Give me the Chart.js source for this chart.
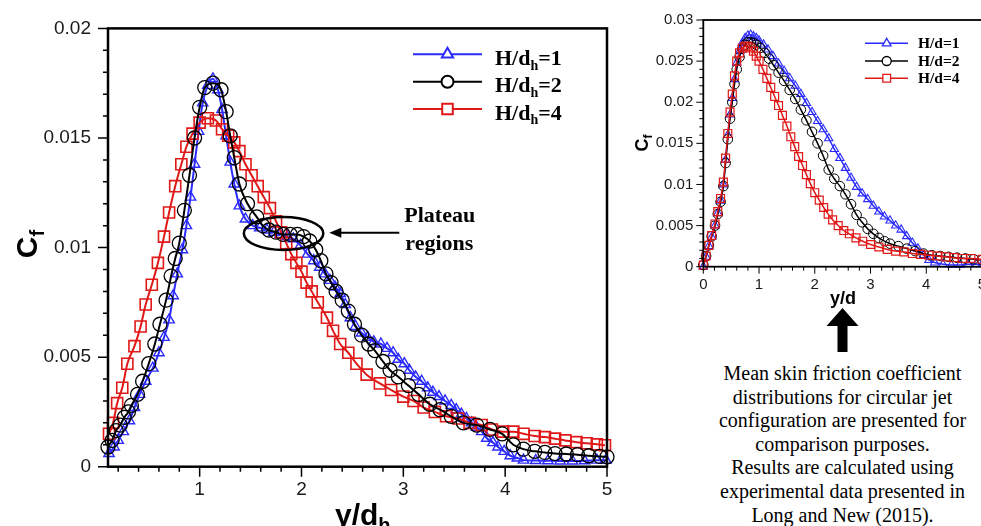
<!DOCTYPE html>
<html><head><meta charset="utf-8">
<script src="https://cdn.jsdelivr.net/npm/chart.js@4.4.1/dist/chart.umd.min.js"></script>
<style>
html,body{margin:0;padding:0;background:#fff;width:981px;height:526px;overflow:hidden;position:relative;}
canvas{position:absolute;top:0;}
#mainChart{left:0;}
#sideChart{left:630px;}
#upArrow{position:absolute;left:820px;top:300px;}
#note{position:absolute;left:700px;top:362px;width:285px;text-align:center;font-family:"Liberation Serif","Times New Roman",serif;font-size:20px;line-height:23.6px;color:#000;white-space:nowrap;}
</style></head><body>
<canvas id="mainChart" width="640" height="526"></canvas>
<canvas id="sideChart" width="370" height="330"></canvas>
<svg id="upArrow" width="45" height="60"><polygon points="22.5,8 6.5,26 17.5,26 17.5,52 27.5,52 27.5,26 38.5,26" fill="#000"/></svg>
<div id="note">Mean skin friction coefficient<br>distributions for circular jet<br>configuration are presented for<br>comparison purposes.<br>Results are calculated using<br>experimental data presented in<br>Long and New (2015).</div>
<script>
// ---------------- DATA: main chart (rectangular jet, H/dh) ----------------
const mainX1 = [0.11,0.16,0.20,0.25,0.31,0.36,0.41,0.47,0.54,0.60,0.65,0.70,0.74,0.78,0.83,0.87,0.91,0.95,0.99,1.03,1.08,1.13,1.18,1.22,1.26,1.30,1.34,1.39,1.45,1.52,1.59,1.66,1.73,1.79,1.86,1.92,1.99,2.06,2.12,2.18,2.23,2.28,2.33,2.38,2.43,2.48,2.53,2.59,2.65,2.71,2.78,2.84,2.90,2.95,3.01,3.06,3.12,3.18,3.24,3.29,3.35,3.41,3.47,3.52,3.57,3.62,3.67,3.72,3.77,3.82,3.88,3.93,3.99,4.05,4.12,4.18,4.30,4.42,4.54,4.66,4.78,4.90,4.99];
const mainY1 = [0.0006,0.0009,0.0012,0.0016,0.0021,0.0027,0.0033,0.0039,0.0045,0.0052,0.0059,0.0067,0.0078,0.0088,0.0099,0.0110,0.0123,0.0138,0.0153,0.0166,0.0174,0.0177,0.0172,0.0163,0.0151,0.0139,0.0129,0.0119,0.0113,0.0110,0.0109,0.0108,0.0107,0.0106,0.0105,0.0104,0.0101,0.0097,0.0094,0.0091,0.0088,0.0085,0.0082,0.0079,0.0074,0.0068,0.0064,0.0061,0.0059,0.0057,0.0056,0.0054,0.0052,0.0049,0.0047,0.0044,0.0041,0.0039,0.0036,0.0034,0.0032,0.0030,0.0028,0.0026,0.0024,0.0022,0.0020,0.0018,0.0016,0.0013,0.0011,0.0009,0.0007,0.0005,0.0004,0.0003,0.00028,0.00027,0.00026,0.00026,0.00027,0.0003,0.0003];
const mainX2 = [0.10,0.14,0.18,0.22,0.26,0.30,0.33,0.39,0.44,0.50,0.56,0.61,0.67,0.72,0.76,0.80,0.85,0.90,0.95,1.00,1.05,1.13,1.21,1.26,1.30,1.34,1.39,1.47,1.56,1.62,1.68,1.75,1.82,1.89,1.96,2.02,2.08,2.14,2.19,2.24,2.29,2.34,2.40,2.46,2.52,2.59,2.66,2.72,2.80,2.87,2.95,3.05,3.15,3.26,3.36,3.47,3.59,3.72,3.85,3.97,4.08,4.18,4.29,4.39,4.49,4.60,4.71,4.82,4.93,5.00];
const mainY2 = [0.0009,0.0012,0.00165,0.0019,0.00225,0.0025,0.0028,0.0033,0.0039,0.0047,0.0056,0.0065,0.0076,0.0087,0.0095,0.0102,0.0117,0.0133,0.0150,0.0164,0.0173,0.0175,0.0172,0.0162,0.0151,0.0141,0.0129,0.0120,0.0114,0.0110,0.0108,0.0107,0.0106,0.0106,0.0106,0.0105,0.0103,0.0099,0.0094,0.0088,0.0084,0.0080,0.0076,0.0071,0.0065,0.0060,0.0056,0.0053,0.0048,0.0044,0.0041,0.0037,0.0033,0.00285,0.0026,0.0023,0.0020,0.0019,0.0017,0.0015,0.0010,0.0008,0.0007,0.00065,0.0006,0.00058,0.00055,0.0005,0.00047,0.00045];
const mainX4 = [0.11,0.15,0.19,0.24,0.29,0.36,0.42,0.47,0.53,0.59,0.65,0.70,0.76,0.82,0.87,0.93,1.00,1.08,1.16,1.22,1.28,1.34,1.39,1.45,1.51,1.57,1.63,1.69,1.75,1.80,1.85,1.90,1.95,2.00,2.05,2.10,2.16,2.25,2.31,2.38,2.46,2.54,2.64,2.77,2.88,3.00,3.10,3.20,3.31,3.42,3.54,3.65,3.77,3.87,3.98,4.08,4.18,4.29,4.39,4.49,4.59,4.70,4.80,4.90,4.98];
const mainY4 = [0.0015,0.0020,0.0029,0.0036,0.0047,0.0055,0.0064,0.0074,0.0083,0.0093,0.0105,0.0116,0.0128,0.0138,0.0146,0.0152,0.0157,0.0159,0.0158,0.0154,0.0151,0.0148,0.0144,0.0138,0.0133,0.0128,0.0123,0.0118,0.0112,0.0107,0.0102,0.0097,0.0093,0.0089,0.0084,0.0080,0.0075,0.0068,0.0062,0.0056,0.0052,0.0047,0.0042,0.0038,0.0035,0.0032,0.0030,0.0027,0.0025,0.0023,0.0022,0.0020,0.0019,0.0017,0.0016,0.0016,0.0015,0.0014,0.00135,0.00128,0.0012,0.00112,0.00107,0.00102,0.00098];
const mainXTicks = [1,2,3,4,5];
const mainYTicks = [0,0.005,0.01,0.015,0.02];
const mainLegendValues = ['1','2','4'];
const plateauCenter = [1.824, 0.01064];
const plateauRadii = [0.39, 0.00075];

// ---------------- DATA: side chart (circular jet, H/d) ----------------
const sideX1 = [0.00,0.05,0.10,0.15,0.21,0.26,0.31,0.36,0.40,0.44,0.48,0.52,0.56,0.60,0.65,0.70,0.75,0.80,0.85,0.90,0.95,1.00,1.08,1.16,1.25,1.35,1.45,1.55,1.65,1.75,1.85,1.95,2.05,2.15,2.25,2.35,2.45,2.55,2.65,2.75,2.85,2.95,3.05,3.15,3.25,3.35,3.45,3.55,3.65,3.75,3.85,3.95,4.05,4.15,4.30,4.45,4.60,4.75,4.90,5.00];
const sideY1 = [0.0000,0.0012,0.0025,0.0036,0.0050,0.0065,0.0080,0.0100,0.0130,0.0160,0.0185,0.0205,0.0228,0.0248,0.0262,0.0272,0.0278,0.0281,0.0282,0.0280,0.0278,0.0275,0.0270,0.0264,0.0256,0.0247,0.0238,0.0229,0.0220,0.0210,0.0199,0.0188,0.0177,0.0167,0.0156,0.0143,0.0132,0.0120,0.0108,0.0097,0.0089,0.0082,0.0074,0.0067,0.0061,0.0056,0.0050,0.0045,0.0037,0.0029,0.0022,0.0014,0.0008,0.0005,0.0003,0.0002,0.0002,0.0003,0.0003,0.0003];
const sideX2 = [0.00,0.05,0.10,0.15,0.21,0.26,0.31,0.36,0.40,0.44,0.48,0.52,0.56,0.60,0.65,0.70,0.75,0.80,0.85,0.90,0.95,1.02,1.10,1.18,1.26,1.35,1.45,1.55,1.65,1.75,1.85,1.95,2.05,2.15,2.25,2.35,2.45,2.55,2.65,2.75,2.85,2.95,3.05,3.15,3.25,3.35,3.50,3.65,3.80,3.95,4.10,4.25,4.40,4.55,4.70,4.85,5.00];
const sideY2 = [0.0002,0.0013,0.0026,0.0037,0.0050,0.0064,0.0079,0.0098,0.0126,0.0155,0.0180,0.0200,0.0222,0.0240,0.0255,0.0265,0.0270,0.0273,0.0273,0.0272,0.0270,0.0266,0.0260,0.0253,0.0245,0.0236,0.0226,0.0215,0.0204,0.0191,0.0178,0.0164,0.0150,0.0135,0.0118,0.0107,0.0098,0.0088,0.0076,0.0063,0.0054,0.0046,0.0040,0.0035,0.0031,0.0028,0.0025,0.0022,0.0019,0.0016,0.0014,0.0013,0.0012,0.0011,0.0010,0.0009,0.0008];
const sideX4 = [0.00,0.05,0.10,0.15,0.21,0.26,0.31,0.36,0.40,0.44,0.48,0.52,0.56,0.60,0.65,0.70,0.75,0.80,0.85,0.90,0.95,1.00,1.07,1.14,1.21,1.28,1.35,1.42,1.50,1.57,1.64,1.71,1.78,1.85,1.92,2.00,2.08,2.16,2.24,2.32,2.42,2.52,2.62,2.74,2.86,3.00,3.15,3.30,3.45,3.60,3.75,3.90,4.05,4.20,4.35,4.50,4.65,4.80,5.00];
const sideY4 = [0.0002,0.0013,0.0026,0.0038,0.0052,0.0067,0.0083,0.0103,0.0132,0.0162,0.0188,0.0210,0.0232,0.0250,0.0260,0.0266,0.0268,0.0268,0.0266,0.0262,0.0256,0.0250,0.0240,0.0229,0.0218,0.0207,0.0196,0.0184,0.0171,0.0158,0.0146,0.0134,0.0123,0.0112,0.0101,0.0090,0.0081,0.0072,0.0064,0.0057,0.0050,0.0044,0.0040,0.0035,0.0031,0.0027,0.0024,0.0021,0.0019,0.0018,0.0016,0.0015,0.0014,0.0013,0.0012,0.0011,0.0010,0.0010,0.0009];
const sideXTicks = [0,1,2,3,4,5];
const sideYTicks = [0,0.005,0.01,0.015,0.02,0.025,0.03];
const sideLegendValues = ['1','2','4'];

// ---------------- styling ----------------
const BLUE = '#2b2bff', RED = '#e01818', BLACK = '#000000';
const SANS = '"Liberation Sans", Arial, sans-serif';
const SERIF = '"Liberation Serif", "Times New Roman", serif';
const pts = (xs, ys) => xs.map((x, i) => ({ x: x, y: ys[i] }));

function markerPath(ctx, style, x, y, r) {
  ctx.beginPath();
  if (style === 'circle') ctx.arc(x, y, r, 0, Math.PI * 2);
  else if (style === 'rect') { const s = r * Math.SQRT1_2; ctx.rect(x - s, y - s, 2 * s, 2 * s); }
  else {
    ctx.moveTo(x, y - r);
    ctx.lineTo(x + r * Math.sin(2 * Math.PI / 3), y - r * Math.cos(2 * Math.PI / 3));
    ctx.lineTo(x + r * Math.sin(4 * Math.PI / 3), y - r * Math.cos(4 * Math.PI / 3));
    ctx.closePath();
  }
}

function drawSub(ctx, x, y, base, sub, tail, size, family, weight) {
  ctx.font = weight + ' ' + size + 'px ' + family;
  ctx.fillText(base, x, y);
  let w = ctx.measureText(base).width;
  const ss = Math.round(size * 0.65);
  ctx.font = weight + ' ' + ss + 'px ' + family;
  ctx.fillText(sub, x + w, y + size * 0.22);
  w += ctx.measureText(sub).width;
  ctx.font = weight + ' ' + size + 'px ' + family;
  if (tail) { ctx.fillText(tail, x + w, y); w += ctx.measureText(tail).width; }
  return w;
}

function subWidth(ctx, base, sub, size, family, weight) {
  ctx.font = weight + ' ' + size + 'px ' + family;
  let w = ctx.measureText(base).width;
  ctx.font = weight + ' ' + Math.round(size * 0.65) + 'px ' + family;
  return w + ctx.measureText(sub).width;
}

function drawFrameAndTicks(chart, o) {
  const ctx = chart.ctx, a = chart.chartArea, xs = chart.scales.x, ys = chart.scales.y;
  ctx.save();
  ctx.strokeStyle = '#000';
  ctx.lineWidth = o.tickWidth;
  ctx.beginPath();
  const nx = Math.round((o.xMax - o.xStart) / o.xMinor);
  for (let i = 0; i <= nx; i++) {
    const v = o.xStart + i * o.xMinor;
    const px = xs.getPixelForValue(v);
    if (px < a.left - 0.5 || px > a.right + 0.5) continue;
    const major = Math.abs(v - Math.round(v)) < 1e-6;
    ctx.moveTo(px, a.bottom); ctx.lineTo(px, a.bottom + (major ? o.majorLen : o.minorLen));
  }
  const ny = Math.round(o.yMax / o.yMinor);
  for (let i = 0; i <= ny; i++) {
    const v = i * o.yMinor;
    const py = ys.getPixelForValue(v);
    const major = i % o.yMajorEvery === 0;
    ctx.moveTo(a.left, py); ctx.lineTo(a.left - (major ? o.majorLen : o.minorLen), py);
  }
  ctx.stroke();
  ctx.lineWidth = o.frameWidth;
  ctx.strokeRect(a.left, a.top, a.right - a.left, a.bottom - a.top);
  ctx.restore();
}

function legendEntry(ctx, x0, x1, xm, y, color, style, r, lw, mlw) {
  ctx.save();
  ctx.strokeStyle = color; ctx.lineWidth = lw;
  ctx.beginPath(); ctx.moveTo(x0, y); ctx.lineTo(x1, y); ctx.stroke();
  markerPath(ctx, style, xm, y, r);
  ctx.fillStyle = '#fff'; ctx.fill();
  ctx.lineWidth = mlw; ctx.stroke();
  ctx.restore();
}

const mainDecor = {
  id: 'mainDecor',
  afterDraw(chart) {
    const ctx = chart.ctx, xs = chart.scales.x, ys = chart.scales.y;
    drawFrameAndTicks(chart, { tickWidth: 1.5, frameWidth: 2.5, xStart: 0.2, xMax: 5, xMinor: 0.2, yMax: 0.02, yMinor: 0.001, yMajorEvery: 5, majorLen: 10, minorLen: 5 });
    ctx.save();
    ctx.fillStyle = '#000';
    ctx.textBaseline = 'alphabetic';
    drawSub(ctx, 335, 525, 'y/d', 'h', '', 30, SANS, 'bold');
    ctx.save();
    ctx.translate(37, 244);
    ctx.rotate(-Math.PI / 2);
    const cw = subWidth(ctx, 'C', 'f', 30, SANS, 'bold');
    drawSub(ctx, -cw / 2, 0, 'C', 'f', '', 30, SANS, 'bold');
    ctx.restore();
    const cols = [BLUE, BLACK, RED], styles = ['triangle', 'circle', 'rect'], rs = [6.5, 6, 7.5];
    const ly = [54.3, 81.7, 109];
    for (let i = 0; i < 3; i++) {
      legendEntry(ctx, 413, 482, 447.5, ly[i], cols[i], styles[i], rs[i], 2, 2);
      ctx.fillStyle = '#000';
      drawSub(ctx, 495, ly[i] + 10.5, 'H/d', 'h', '=' + mainLegendValues[i], 22, SERIF, 'bold');
    }
    const cx = xs.getPixelForValue(plateauCenter[0]), cy = ys.getPixelForValue(plateauCenter[1]);
    const rx = xs.getPixelForValue(plateauCenter[0] + plateauRadii[0]) - cx;
    const ry = cy - ys.getPixelForValue(plateauCenter[1] + plateauRadii[1]);
    ctx.strokeStyle = '#000'; ctx.lineWidth = 2.5;
    ctx.beginPath(); ctx.ellipse(cx, cy, rx, ry, 0, 0, Math.PI * 2); ctx.stroke();
    const tipX = cx + rx + 6, ay = cy - 0.7;
    ctx.lineWidth = 2;
    ctx.beginPath(); ctx.moveTo(tipX + 70, ay); ctx.lineTo(tipX + 10, ay); ctx.stroke();
    ctx.beginPath(); ctx.moveTo(tipX, ay); ctx.lineTo(tipX + 12, ay - 5); ctx.lineTo(tipX + 12, ay + 5); ctx.closePath(); ctx.fill();
    ctx.font = 'bold 22px ' + SERIF;
    ctx.fillText('Plateau', tipX + 75, 222);
    ctx.fillText('regions', tipX + 76, 250);
    ctx.restore();
  }
};

const sideDecor = {
  id: 'sideDecor',
  afterDraw(chart) {
    const ctx = chart.ctx;
    drawFrameAndTicks(chart, { tickWidth: 1, frameWidth: 1.8, xStart: 0, xMax: 5, xMinor: 0.2, yMax: 0.03, yMinor: 0.001, yMajorEvery: 5, majorLen: 7, minorLen: 4 });
    ctx.save();
    ctx.fillStyle = '#000';
    const yw = subWidth(ctx, 'y/d', '', 18, SANS, 'bold');
    drawSub(ctx, 213 - yw / 2, 304, 'y/d', '', '', 18, SANS, 'bold');
    ctx.save();
    ctx.translate(18, 143);
    ctx.rotate(-Math.PI / 2);
    const cw = subWidth(ctx, 'C', 'f', 18, SANS, 'bold');
    drawSub(ctx, -cw / 2, 0, 'C', 'f', '', 18, SANS, 'bold');
    ctx.restore();
    const cols = [BLUE, BLACK, RED], styles = ['triangle', 'circle', 'rect'], rs = [5, 4.5, 5.5];
    const ly = [43.3, 61, 78.3];
    for (let i = 0; i < 3; i++) {
      legendEntry(ctx, 235, 278, 256.7, ly[i], cols[i], styles[i], rs[i], 1.5, 1.3);
      ctx.fillStyle = '#000';
      ctx.font = 'bold 15.5px ' + SERIF;
      ctx.fillText('H/d=' + sideLegendValues[i], 288, ly[i] + 5);
    }
    ctx.restore();
  }
};

function ds(label, xs, ys, color, style, r, lw, mlw, order) {
  return {
    label: label, data: pts(xs, ys), showLine: true, borderColor: color, borderWidth: lw,
    cubicInterpolationMode: 'monotone', fill: false, clip: false, order: order,
    pointStyle: style, pointRadius: r, pointHoverRadius: r, pointBorderColor: color,
    pointBackgroundColor: 'rgba(0,0,0,0)', pointBorderWidth: mlw
  };
}

function scaleOpts(min, max, ticks, fit, isX, fontSize, pad) {
  return {
    type: 'linear', min: min, max: max,
    afterBuildTicks: s => { s.ticks = ticks.map(v => ({ value: v })); },
    afterFit: s => { if (isX) s.height = fit; else s.width = fit; },
    grid: { display: false, drawTicks: false },
    border: { display: false },
    ticks: { padding: pad, autoSkip: false, maxRotation: 0, color: '#1a1a1a',
             font: { size: fontSize, family: SANS }, callback: v => String(v) }
  };
}

Chart.defaults.font.family = SANS;

new Chart(document.getElementById('mainChart'), {
  type: 'scatter',
  data: { datasets: [
    ds('H/dh=1', mainX1, mainY1, BLUE, 'triangle', 6, 2, 1.4, 2),
    ds('H/dh=2', mainX2, mainY2, BLACK, 'circle', 7, 2, 1.3, 0),
    ds('H/dh=4', mainX4, mainY4, RED, 'rect', 7.8, 2, 1.6, 1)
  ] },
  options: {
    responsive: false, animation: false, events: [],
    layout: { padding: { left: 0, top: 22, right: 33, bottom: 0 } },
    plugins: { legend: { display: false }, tooltip: { enabled: false } },
    scales: {
      x: scaleOpts(0.1, 5, mainXTicks, 526 - 466.7, true, 19, 12),
      y: scaleOpts(0, 0.02, mainYTicks, 108, false, 19, 17)
    }
  },
  plugins: [mainDecor]
});

new Chart(document.getElementById('sideChart'), {
  type: 'scatter',
  data: { datasets: [
    ds('H/d=1', sideX1, sideY1, BLUE, 'triangle', 4.8, 1.5, 1.1, 2),
    ds('H/d=2', sideX2, sideY2, BLACK, 'circle', 4.8, 1.5, 1.0, 1),
    ds('H/d=4', sideX4, sideY4, RED, 'rect', 5.6, 1.5, 1.2, 0)
  ] },
  options: {
    responsive: false, animation: false, events: [],
    layout: { padding: { left: 0, top: 20, right: 18, bottom: 0 } },
    plugins: { legend: { display: false }, tooltip: { enabled: false } },
    scales: {
      x: scaleOpts(0, 5, sideXTicks, 330 - 266.7, true, 15, 9),
      y: scaleOpts(0, 0.03, sideYTicks, 73.3, false, 15, 10)
    }
  },
  plugins: [sideDecor]
});
</script>
</body></html>
